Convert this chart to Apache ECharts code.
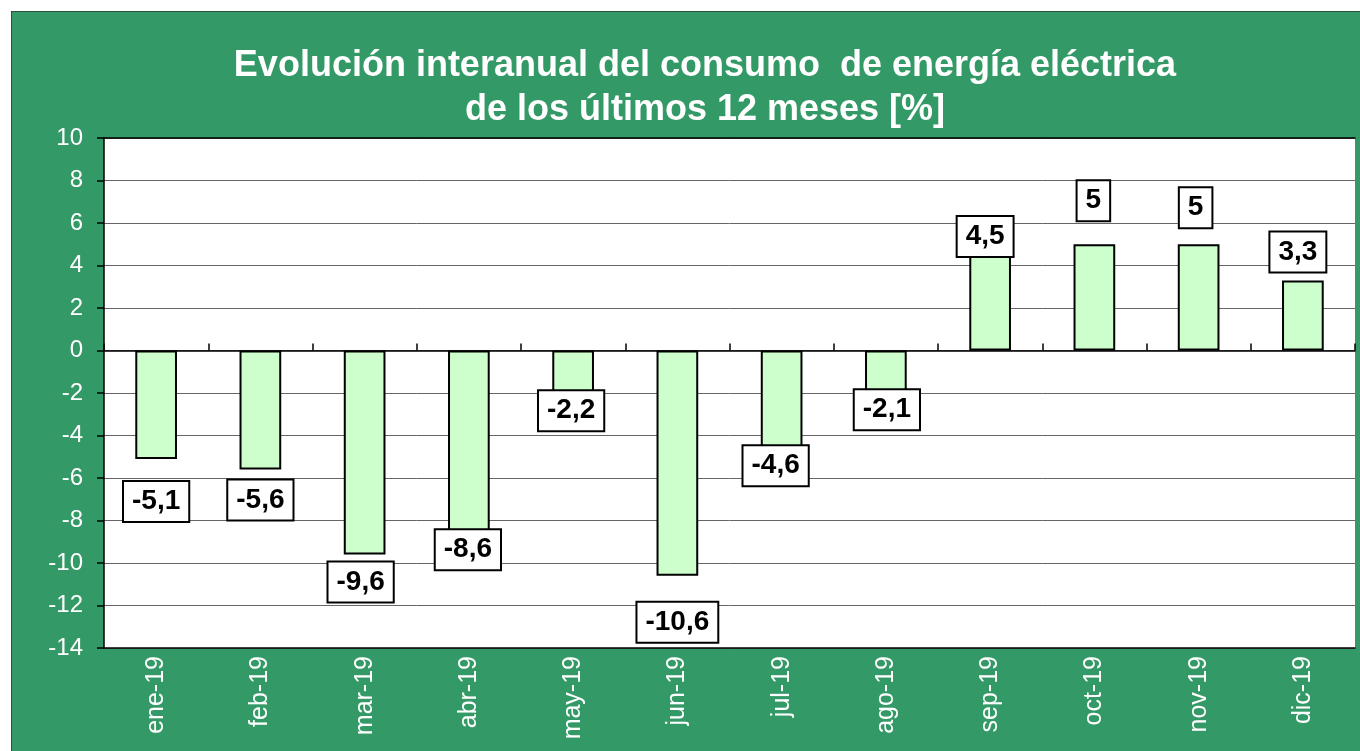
<!DOCTYPE html>
<html>
<head>
<meta charset="utf-8">
<script src="https://cdn.jsdelivr.net/npm/echarts@6/dist/echarts.min.js"></script>
<style>
  html, body { margin: 0; padding: 0; background: #ffffff; width: 1360px; height: 751px; overflow: hidden; }
  #chart { position: absolute; left: 11px; top: 11px; width: 1348px; height: 739px; border-left: 1px solid #2f4f3f; border-top: 1px solid #2f4f3f; }
</style>
</head>
<body>
<div id="chart"></div>
<script>
const months = ['ene-19','feb-19','mar-19','abr-19','may-19','jun-19','jul-19','ago-19','sep-19','oct-19','nov-19','dic-19'];
const values = [-5.1, -5.6, -9.6, -8.6, -2.2, -10.6, -4.6, -2.1, 4.5, 5, 5, 3.3];
const yTicks = { min: -14, max: 10, interval: 2 };
// label nudges (pixels) relative to the bar end, imitating the original label placement
const labelDx = [0, 0, -4, -1, -2, 0, -6, 1, -5, -1, -3, -5];
const labelDy = [23, 11, 8, -3, -6, 27, -2, -5, 1, -24, -17, -9];

const FONT = 'Arial, "Liberation Sans", sans-serif';
const chart = echarts.init(document.getElementById('chart'));

const seriesData = values.map((v, i) => ({
  value: v,
  label: {
    position: v < 0 ? 'bottom' : 'top',
    distance: 0,
    offset: [labelDx[i], labelDy[i]]
  }
}));

chart.setOption({
  backgroundColor: '#339966',
  animation: false,
  title: {
    text: 'Evolución interanual del consumo  de energía eléctrica\nde los últimos 12 meses [%]',
    left: 688,
    textAlign: 'center',
    top: 27,
    textStyle: { color: '#ffffff', fontFamily: FONT, fontWeight: 'bold', fontSize: 36, lineHeight: 44 }
  },
  grid: { left: 92, right: 5, top: 126, bottom: 103, backgroundColor: '#ffffff', show: true, borderWidth: 0 },
  xAxis: [
    {
      type: 'category', data: months, position: 'bottom',
      axisLine: { onZero: false, lineStyle: { color: '#000', width: 1.5 } },
      axisTick: { show: false },
      axisLabel: { rotate: 90, color: '#ffffff', fontFamily: FONT, fontSize: 25, margin: 8 }
    },
    {
      type: 'category', data: months,
      axisLine: { onZero: true, lineStyle: { color: '#000', width: 1.5 } },
      axisTick: { show: true, inside: false, length: 7, lineStyle: { color: '#000', width: 1.5 } },
      axisLabel: { show: false }
    },
    {
      type: 'category', data: months, position: 'top',
      axisLine: { onZero: false, lineStyle: { color: '#000', width: 1.5 } },
      axisTick: { show: false },
      axisLabel: { show: false }
    }
  ],
  yAxis: {
    type: 'value', min: yTicks.min, max: yTicks.max, interval: yTicks.interval,
    axisLine: { show: true, lineStyle: { color: '#000', width: 1.5 } },
    axisTick: { show: true, length: 7, lineStyle: { color: '#000', width: 1.5 } },
    axisLabel: { color: '#ffffff', fontFamily: FONT, fontSize: 24, margin: 21 },
    splitLine: { show: true, lineStyle: { color: '#666', width: 1 } }
  },
  series: [{
    type: 'bar',
    xAxisIndex: 0,
    data: seriesData,
    barWidth: '40%',
    itemStyle: { color: '#ccffcc', borderColor: '#000', borderWidth: 2 },
    label: {
      show: true,
      formatter: p => String(p.value).replace('.', ','),
      color: '#000',
      fontFamily: FONT,
      fontWeight: 'bold',
      fontSize: 28,
      lineHeight: 33,
      backgroundColor: '#ffffff',
      borderColor: '#000',
      borderWidth: 2,
      padding: [3, 8, 3, 8]
    }
  }]
});
</script>
</body>
</html>
